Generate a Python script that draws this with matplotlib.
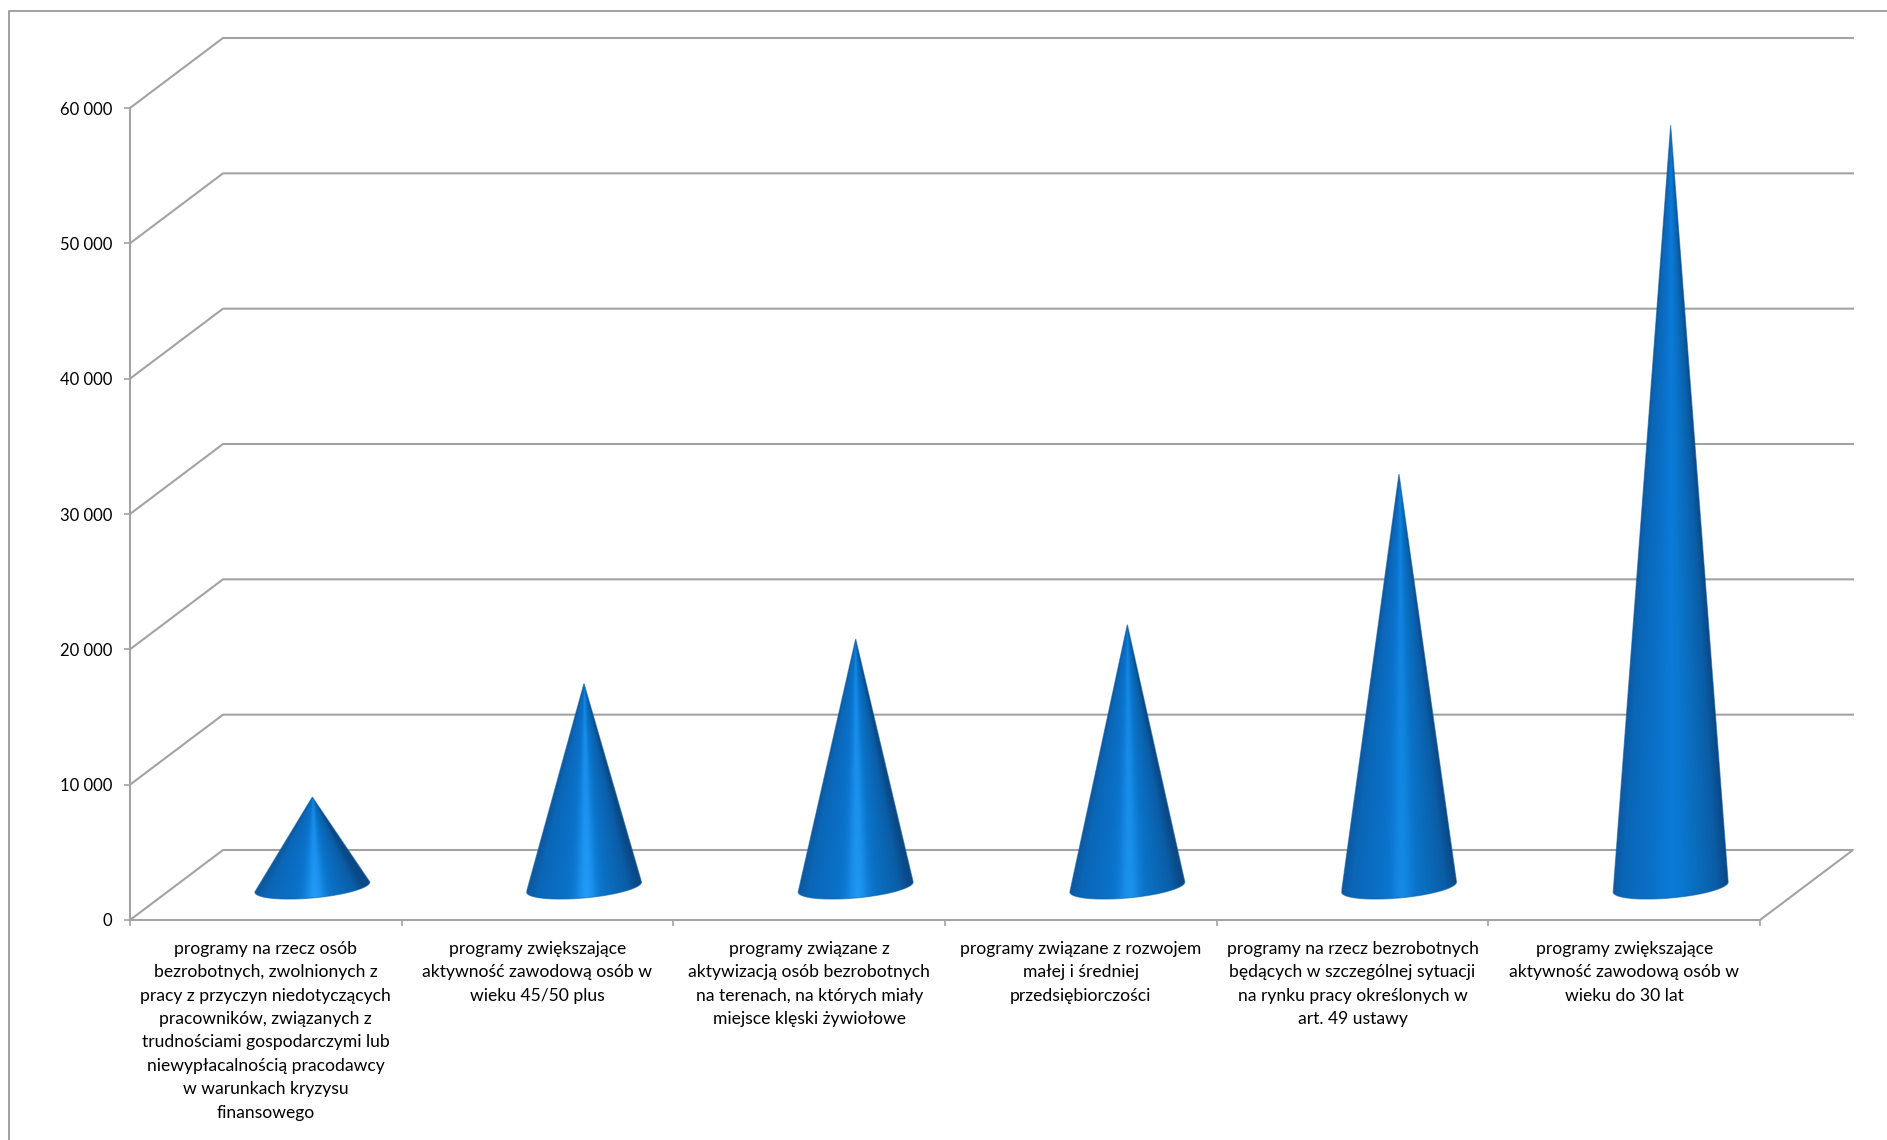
import numpy as np
import matplotlib
matplotlib.use("Agg")
import matplotlib.pyplot as plt
from matplotlib.lines import Line2D
from matplotlib.patches import Polygon
from matplotlib.ticker import FuncFormatter

categories = [
    "programy na rzecz osób\nbezrobotnych, zwolnionych z\npracy z przyczyn niedotyczących\npracowników, związanych z\ntrudnościami gospodarczymi lub\nniewypłacalnością pracodawcy\nw warunkach kryzysu\nfinansowego",
    "programy zwiększające\naktywność zawodową osób w\nwieku 45/50 plus",
    "programy związane z\naktywizacją osób bezrobotnych\nna terenach, na których miały\nmiejsce klęski żywiołowe",
    "programy związane z rozwojem\nmałej i średniej\nprzedsiębiorczości",
    "programy na rzecz bezrobotnych\nbędących w szczególnej sytuacji\nna rynku pracy określonych w\nart. 49 ustawy",
    "programy zwiększające\naktywność zawodową osób w\nwieku do 30 lat",
]
values = [6650, 15040, 18330, 19390, 30520, 56300]
y_ticks = [0, 10000, 20000, 30000, 40000, 50000, 60000]

W, H = 1887, 1140
GRAY = "#a3a3a3"

# axis box in pixels
px_left, px_right = 130, 1760
px_zero, px_top = 920, 108
xscale = (px_right - px_left) / len(categories)
yscale = (px_zero - px_top) / y_ticks[-1]

# 3d look: how far the back wall sits from the front edge
depth_x = 93 / xscale
depth_y = 70 / yscale

plt.rcParams["font.family"] = ["Lato", "DejaVu Sans"]

fig = plt.figure(figsize=(W / 100, H / 100), dpi=100)
ax = fig.add_axes([0, 0, 1, 1])
ax.set_xlim(-px_left / xscale, (W - px_left) / xscale)
ax.set_ylim(-(H - px_zero) / yscale, px_zero / yscale)
ax.set_autoscale_on(False)
ax.patch.set_visible(False)

# outer frame of the chart area
fig.add_artist(Line2D([8.5 / W, 8.5 / W, 1], [0, 1 - 10.5 / H, 1 - 10.5 / H],
                      transform=fig.transFigure, color="#999999", lw=1.3))

for s in ["top", "right"]:
    ax.spines[s].set_visible(False)
for s in ["left", "bottom"]:
    ax.spines[s].set_color(GRAY)
    ax.spines[s].set_linewidth(1.5)
    ax.spines[s].set_position(("data", 0))
ax.spines["left"].set_bounds(0, y_ticks[-1])
ax.spines["bottom"].set_bounds(0, len(categories))

ax.set_yticks(y_ticks)
ax.yaxis.set_major_formatter(FuncFormatter(lambda v, _: f"{int(v):,}".replace(",", " ")))
ax.tick_params(axis="y", length=4, width=1.2, color=GRAY, pad=9, labelsize=12, labelcolor="#000000")

ax.set_xticks(range(len(categories) + 1))
ax.set_xticklabels([])
ax.set_xticks(np.arange(len(categories)) + 0.5, minor=True)
ax.set_xticklabels(categories, minor=True, fontsize=12.6, color="#000000", linespacing=1.57)
ax.tick_params(axis="x", which="major", length=4, width=1.2, color=GRAY)
ax.tick_params(axis="x", which="minor", length=0, pad=15)

# walls: every gridline runs back along the side and then across
n = len(categories)
for v in y_ticks:
    if v == 0:
        continue
    ax.plot([0, depth_x, n + depth_x], [v, v + depth_y, v + depth_y], color=GRAY, lw=1.5, zorder=1)
ax.plot([0, depth_x, n + depth_x, n], [0, depth_y, depth_y, 0], color=GRAY, lw=1.5, zorder=1)

# cone shading, across the cone from left edge (-1) to right edge (1)
stops = [-1.0, -0.85, -0.35, 0.0, 0.15, 0.45, 0.8, 1.0]
base_cols = np.array([
    [0x0d, 0x5a, 0xa2], [0x0a, 0x66, 0xb6], [0x0a, 0x70, 0xc8], [0x0a, 0x7b, 0xd8],
    [0x0a, 0x78, 0xd2], [0x0a, 0x6d, 0xbe], [0x0a, 0x5d, 0xa6], [0x0a, 0x48, 0x86],
]) / 255
bright = np.array([0x22, 0x9a, 0xf6]) / 255
glow = [1.0, 1.0, 0.9, 0.75, 0.45, 0.0]


def cone_image(glow_amount, ny=260, nx=220):
    # rgb image for the bounding box, colour depends on position across the slanted side
    fy = np.linspace(0, 1, ny)[:, None]
    u = np.linspace(-1, 1, nx)[None, :] / np.maximum(fy, 0.004)
    img = np.zeros((ny, nx, 3))
    for c in range(3):
        img[:, :, c] = np.interp(u, stops, base_cols[:, c])
    streak = np.exp(-((u - 0.04) / 0.17) ** 2) * (0.45 + 0.55 * fy) * glow_amount
    img += (bright - img) * streak[:, :, None]
    return img


half_w = 57.5 / xscale
tilt = 5 / yscale
minor = 11 / yscale
base_y = depth_y / 2 - 2 / yscale

for i, v in enumerate(values):
    cx = i + 0.5 + depth_x / 2
    t = np.linspace(np.pi, 2 * np.pi, 80)
    arc_x = cx + half_w * np.cos(t)
    arc_y = base_y + tilt * np.cos(t) + minor * np.sin(t)
    outline = np.column_stack([np.r_[cx, arc_x], np.r_[base_y + v, arc_y]])

    ylow = arc_y.min()
    im = ax.imshow(cone_image(glow[i]), extent=[cx - half_w, cx + half_w, ylow, base_y + v],
                   origin="upper", aspect="auto", interpolation="bilinear", zorder=3)
    im.set_clip_path(Polygon(outline, closed=True, transform=ax.transData))
    # soft edge hides the jaggies of the clip
    ax.add_patch(Polygon(outline, closed=True, fill=False, edgecolor="#0b5ba4", lw=0.8, alpha=0.55, zorder=4))

fig.savefig("out.png", dpi=100)
